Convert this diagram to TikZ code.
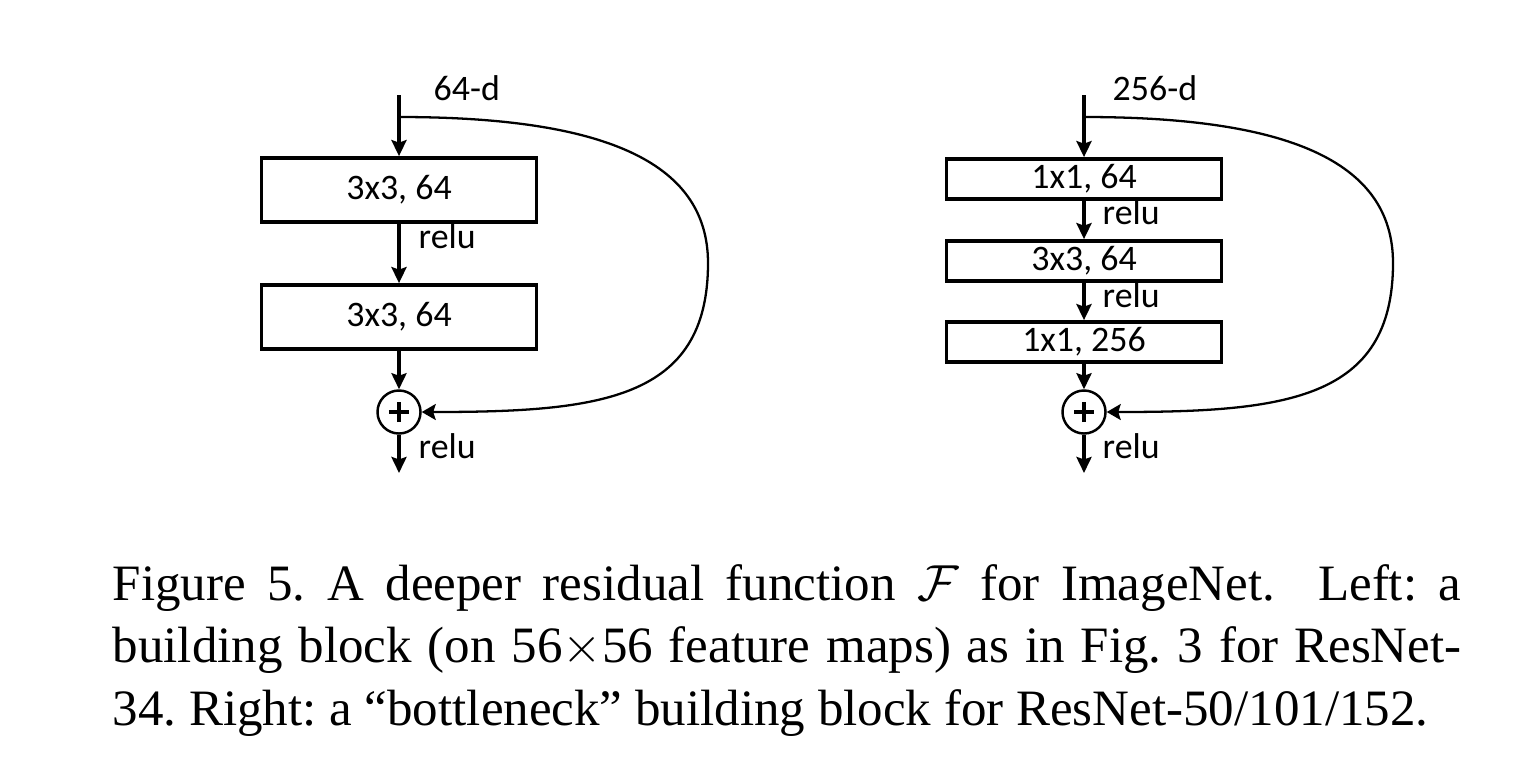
\documentclass[tikz,border=0pt]{standalone}
\usepackage{amsmath,amssymb}
\usepackage{fontspec}
\setmainfont{Liberation Serif}
\newfontfamily\diagfont{Carlito}
\usetikzlibrary{arrows.meta,positioning,calc}

\begin{document}
\begin{tikzpicture}[x=0.01cm,y=-0.01cm,
  layer/.style={draw,line width=1.05pt,minimum width=2.75cm,inner sep=0pt,
                font=\diagfont\fontsize{10.2}{12}\selectfont},
  arr/.style={-{Stealth[length=1.6mm,width=1.5mm,inset=0.25mm]},line width=1.05pt},
  skip/.style={-{Stealth[length=1.4mm,width=1.6mm,inset=0.25mm]},line width=0.65pt},
  lbl/.style={font=\diagfont\fontsize{10.2}{12}\selectfont,inner sep=0pt,anchor=base west},
  addop/.style={draw,circle,line width=0.7pt,minimum size=0.43cm,inner sep=0pt,
                path picture={\draw[line width=1.1pt]
                  ([xshift=-0.1cm]path picture bounding box.center) -- ([xshift=0.1cm]path picture bounding box.center)
                  ([yshift=-0.1cm]path picture bounding box.center) -- ([yshift=0.1cm]path picture bounding box.center);}},
  caption/.style={font=\fontsize{14.5}{17.8}\selectfont,text width=13.48cm,align=justify,
                  inner sep=0pt,anchor=base west}
]
\useasboundingbox (0,0) rectangle (1518,769);
% left: building block
\coordinate (in1) at (399,95);
\coordinate (sp1) at (399,117);
\node[layer,minimum height=0.64cm] (b1) at (399,190) {3x3, 64};
\node[layer,minimum height=0.64cm] (b2) at (399,317) {3x3, 64};
\node[addop] (add1) at (399,412) {};
\coordinate (out1) at (399,473);
\node[lbl] (dim1) at (433,100) {64-d};
\node[lbl] (relu1) at (418,248) {relu};
\node[lbl] (relu2) at (418,458) {relu};
\draw[arr] (in1) -- (b1);
\draw[arr] (b1) -- (b2);
\draw[arr] (b2) -- (add1);
\draw[arr] (add1) -- (out1);
\draw[skip] (sp1) .. controls (600,117) and (708,160) .. (708,263)
  .. controls (708,400) and (600,412) .. (add1.east);
% right: bottleneck block
\coordinate (in2) at (1084,95);
\coordinate (sp2) at (1084,117);
\node[layer,minimum height=0.40cm] (r1) at (1084,179) {1x1, 64};
\node[layer,minimum height=0.40cm] (r2) at (1084,261) {3x3, 64};
\node[layer,minimum height=0.40cm] (r3) at (1084,342) {1x1, 256};
\node[addop] (add2) at (1084,412) {};
\coordinate (out2) at (1084,473);
\node[lbl] (dim2) at (1112,100) {256-d};
\node[lbl] (relu3) at (1102,224) {relu};
\node[lbl] (relu4) at (1102,307) {relu};
\node[lbl] (relu5) at (1102,458) {relu};
\draw[arr] (in2) -- (r1);
\draw[arr] (r1) -- (r2);
\draw[arr] (r2) -- (r3);
\draw[arr] (r3) -- (add2);
\draw[arr] (add2) -- (out2);
\draw[skip] (sp2) .. controls (1285,117) and (1393,160) .. (1393,263)
  .. controls (1393,400) and (1285,412) .. (add2.east);
% caption
\node[caption] (cap) at (112,600) {\frenchspacing Figure 5. A deeper residual function $\mathcal{F}$ for ImageNet.\ \ Left: a\linebreak
building block (on 56$\times$56 feature maps) as in Fig.~3 for ResNet-\linebreak
34. Right: a ``bottleneck'' building block for ResNet-50/101/152.};
\end{tikzpicture}
\end{document}
